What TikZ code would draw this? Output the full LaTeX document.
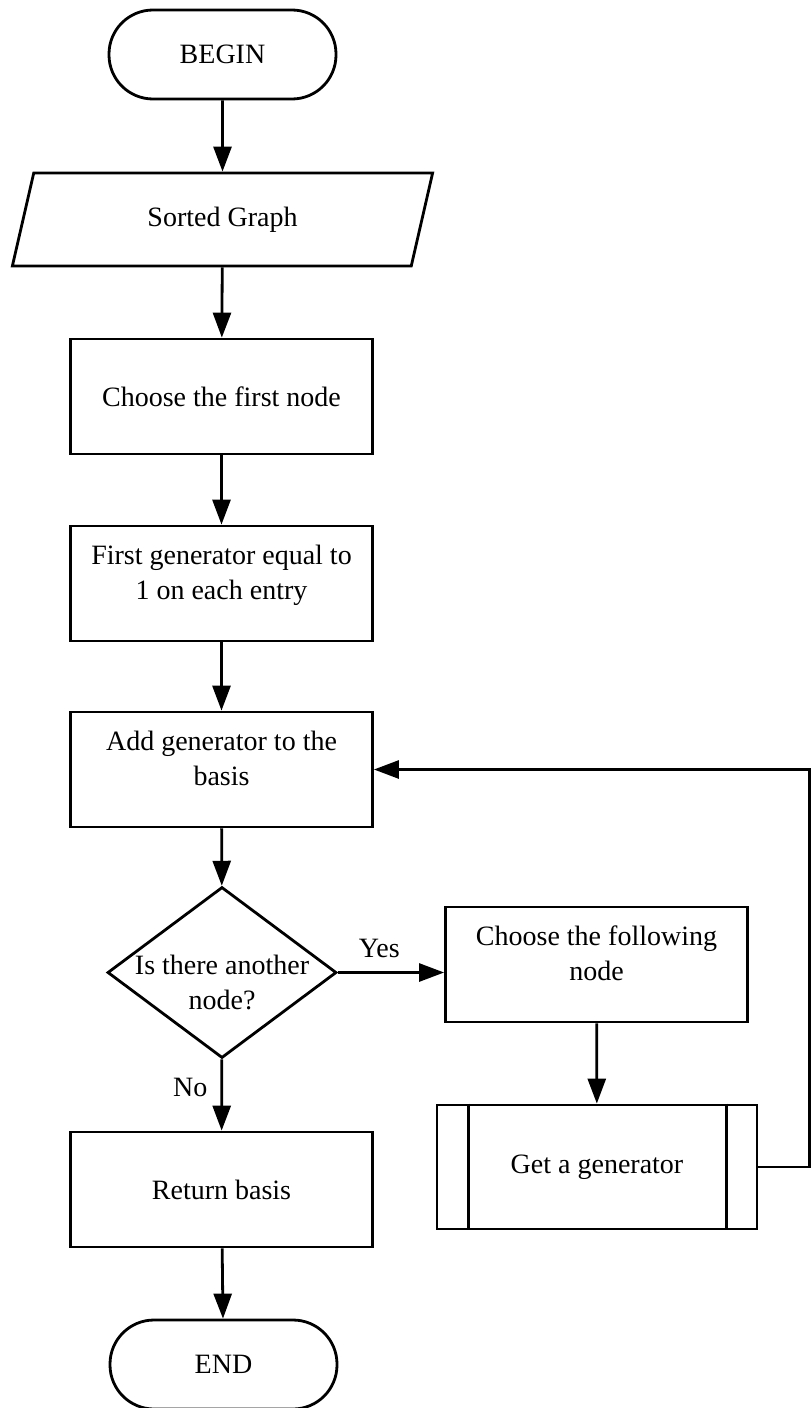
\documentclass[tikz,border=0pt]{standalone}
\usepackage{fontspec}
\setmainfont{Liberation Serif}
\usepackage{tikz}
\usetikzlibrary{shapes.geometric,arrows.meta}

% lines of a box, moved up or down without changing the box size
\newcommand{\liftby}[2]{\raisebox{#1}[\height][\depth]{\begin{tabular}{@{}c@{}}#2\end{tabular}}}

\begin{document}
\begin{tikzpicture}[x=0.5pt, y=-0.5pt, line width=1.4pt,
    font=\fontsize{14}{17.5}\selectfont,
    every node/.style={align=center, inner sep=2pt},
    terminal/.style={draw, rectangle, rounded corners=22pt, minimum width=113.5pt, minimum height=44.5pt},
    io/.style={draw, trapezium, trapezium left angle=75, trapezium right angle=105, trapezium stretches=true, minimum width=211.5pt, minimum height=46.5pt},
    process/.style={draw, rectangle, minimum width=151pt, minimum height=57.5pt},
    decision/.style={draw, diamond, aspect=1.34, inner sep=-5pt, minimum width=114.5pt, minimum height=85.5pt},
    subroutine/.style={draw, rectangle, minimum width=160pt, minimum height=62pt},
    edgelabel/.style={inner sep=6.5pt},
    arrow/.style={-{Triangle[length=12.5pt, width=9pt]}}]
                        \useasboundingbox (0, 0) rectangle (812, 1408);

                        \node (begin) at (222.5, 54.5) [terminal] {BEGIN};
                        \node (graph) at (222.5, 219.5) [io] {Sorted Graph};
                        \node (first) at (221.5, 396.5) [process] {Choose the first node};
                        \node (firstgen) at (221.5, 583.5) [process] {\liftby{4.5pt}{First generator equal to\\1 on each entry}};
                        \node (addgen) at (221.5, 769.5) [process] {\liftby{4.25pt}{Add generator to the\\basis}};
                        \node (another) at (222, 972.5) [decision] {\liftby{-6pt}{Is there another\\node?}};
                        \node (following) at (596.5, 964.5) [process] {\liftby{4.25pt}{Choose the following\\node}};
                        \node (getgen) at (597, 1167) [subroutine] {Get a generator};
                        \node (basis) at (221.5, 1189.5) [process] {Return basis};
                        \node (end) at (223.5, 1364.5) [terminal] {END};

                        % side bars of the subroutine box
                        \draw ([xshift=16.5pt]getgen.north west) -- ([xshift=16.5pt]getgen.south west);
                        \draw ([xshift=-16pt]getgen.north east) -- ([xshift=-16pt]getgen.south east);

                        \draw [arrow] (begin) -- (graph);
                        \draw [arrow] (graph) -- (first);
                        \draw [arrow] (first) -- (firstgen);
                        \draw [arrow] (firstgen) -- (addgen);
                        \draw [arrow] (addgen) -- (another);
                        \draw [arrow] (another.east) -- node [above, edgelabel, pos=0.39] {Yes} (another.east -| following.west);
                        \draw [arrow] (another) -- node [left, edgelabel, pos=0.4] {No} (basis);
                        \draw [arrow] (following) -- (getgen);
                        \draw [arrow] (getgen.east) -- ++(51, 0) |- (addgen.east);
                        \draw [arrow] (basis) -- (end);
                    \end{tikzpicture}
\end{document}
